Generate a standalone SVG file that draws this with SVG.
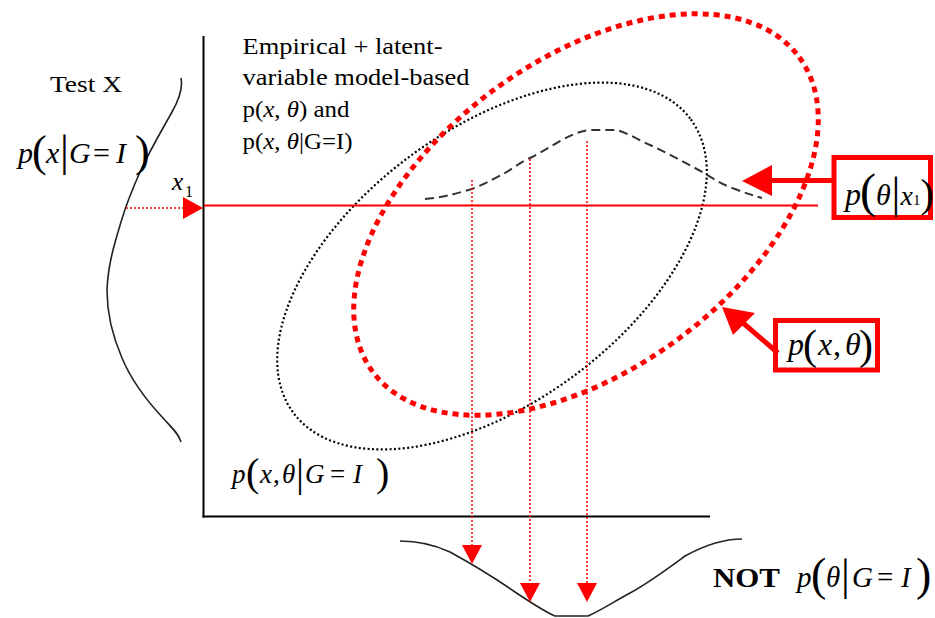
<svg xmlns="http://www.w3.org/2000/svg" width="935" height="618" viewBox="0 0 935 618">
<style>
  text { font-family: "Liberation Serif", "Times New Roman", serif; fill: #000; }
  .t { font-size: 24px; }
  .i { font-style: italic; }
  .n { font-style: normal; }
  .b { font-weight: bold; }
  .axis { stroke: #000; stroke-width: 2; fill: none; }
  .curve { stroke: #222; stroke-width: 1.6; fill: none; }
  .dash { stroke: #333; stroke-width: 2; fill: none; stroke-dasharray: 9 5; }
  .rdot { stroke: #f00; stroke-width: 1.5; fill: none; stroke-dasharray: 2 2; }
  .rthick { stroke: #f00; stroke-width: 5; fill: none; }
  .rhead { fill: #f00; stroke: none; }
  .box { fill: #fff; stroke: #f00; stroke-width: 5; }
</style>

<g id="axes">
  <line class="axis" x1="203.5" y1="36" x2="203.5" y2="517.5"/>
  <line class="axis" x1="202.5" y1="516.5" x2="710" y2="516.5"/>
</g>

<g id="test-x-density">
  <path class="curve" d="M181,78 C183,88 180,98 172,112 C162,130 150,150 140,172 C132,190 126,205 121,222 C114,245 108,265 107,290 C107,312 112,335 122,358 C132,382 148,402 163,418 C172,428 179,434 181,442"/>
  <text class="t" x="50" y="92" textLength="72" lengthAdjust="spacingAndGlyphs">Test X</text>
  <text class="i" font-size="30"><tspan x="18" y="163">p</tspan><tspan class="n" font-size="44" x="32" y="166">(</tspan><tspan x="46" y="163">x</tspan><tspan class="n" font-size="44" x="60" y="166">|</tspan><tspan x="69" y="163">G</tspan><tspan class="n" x="93" y="163">=</tspan><tspan x="116" y="163">I</tspan><tspan class="n" font-size="44" x="135" y="166">)</tspan></text>
  <text class="i" font-size="25"><tspan x="172" y="190">x</tspan><tspan class="n" font-size="16" x="185" y="197">1</tspan></text>
</g>

<g id="model-label">
  <text class="t" x="242.5" y="53.5" textLength="200" lengthAdjust="spacingAndGlyphs">Empirical + latent-</text>
  <text class="t" x="242.5" y="85" textLength="227" lengthAdjust="spacingAndGlyphs">variable model-based</text>
  <text class="t" x="242.5" y="117" textLength="107" lengthAdjust="spacingAndGlyphs">p(<tspan class="i">x</tspan>, <tspan class="i">θ</tspan>) and</text>
  <text class="t" x="242.5" y="148.5" textLength="110" lengthAdjust="spacingAndGlyphs">p(<tspan class="i">x</tspan>, <tspan class="i">θ</tspan>|G=I)</text>
</g>

<g id="ellipse-group-I">
  <ellipse cx="492" cy="266" rx="247" ry="137" transform="rotate(-36.4 492 266)" fill="none" stroke="#000" stroke-width="2.2" stroke-dasharray="2 2.4"/>
  <text class="i" font-size="27"><tspan x="232" y="483">p</tspan><tspan class="n" font-size="40" x="246" y="486">(</tspan><tspan x="260" y="483">x</tspan><tspan class="n" x="273" y="483">,</tspan><tspan x="282" y="483">θ</tspan><tspan class="n" font-size="40" x="296" y="486">|</tspan><tspan x="305" y="483">G</tspan><tspan class="n" x="330" y="483">=</tspan><tspan x="353" y="483">I</tspan><tspan class="n" font-size="40" x="376" y="486">)</tspan></text>
</g>

<g id="ellipse-joint">
  <ellipse cx="586" cy="214.5" rx="265" ry="155" transform="rotate(-36.4 586 214.5)" fill="none" stroke="#f00" stroke-width="5" stroke-dasharray="6 5"/>
</g>

<g id="conditional-curve">
  <path class="dash" d="M425,199 C440,198 455,194 472,189 C485,184 495,178 505,173 C515,167 522,161 530,158 C540,153 550,147 560,141 C570,136 578,131 590,130 L617,130 C630,134 640,141 650,145 C665,152 680,160 695,168 C710,176 720,184 735,189 C745,193 752,195 762,198"/>
</g>

<g id="theta-density">
  <path class="curve" d="M400,541 C420,541 435,545 450,552 C470,563 495,578 515,592 C530,602 545,612 555,616 L588,616 C600,611 615,601 630,593 C650,582 670,567 685,556 C705,545 725,539 742,539"/>
  <text class="b" font-size="27" x="713" y="587" textLength="67" lengthAdjust="spacingAndGlyphs">NOT</text>
  <text class="i" font-size="29"><tspan x="797" y="587">p</tspan><tspan class="n" font-size="46" x="811" y="590">(</tspan><tspan x="826" y="587">θ</tspan><tspan class="n" font-size="44" x="841" y="590">|</tspan><tspan x="852" y="587">G</tspan><tspan class="n" x="877" y="587">=</tspan><tspan x="901" y="587">I</tspan><tspan class="n" font-size="46" x="916" y="590">)</tspan></text>
</g>

<g id="box-theta-given-x1">
  <rect class="box" x="834" y="157.5" width="96.5" height="60"/>
  <text class="i" font-size="32"><tspan x="845" y="205">p</tspan><tspan class="n" font-size="48" x="860" y="207">(</tspan><tspan font-size="30" x="876" y="205">θ</tspan><tspan class="n" font-size="44" x="891.5" y="208">|</tspan><tspan font-size="28" x="900.5" y="205">x</tspan><tspan class="n" font-size="15" x="913" y="205">1</tspan><tspan class="n" font-size="40" x="920.5" y="207">)</tspan></text>
</g>

<g id="box-joint">
  <rect class="box" x="775.5" y="320.5" width="102" height="49.5"/>
  <text class="i" font-size="32"><tspan x="788" y="355">p</tspan><tspan class="n" font-size="42" x="803" y="359">(</tspan><tspan x="818" y="355">x</tspan><tspan class="n" x="833" y="355">,</tspan><tspan x="845" y="355">θ</tspan><tspan class="n" font-size="42" x="859" y="359">)</tspan></text>
</g>

<g id="connectors">
  <line x1="204" y1="205.5" x2="818" y2="205.5" stroke="#f00" stroke-width="2"/>
  <line class="rdot" x1="126" y1="208" x2="184" y2="208"/>
  <polygon class="rhead" points="183,197 203,208 183,219"/>
  <line class="rdot" x1="472" y1="180" x2="472" y2="546"/>
  <polygon class="rhead" points="462,545 482,545 472,564"/>
  <line class="rdot" x1="530" y1="159" x2="530" y2="584"/>
  <polygon class="rhead" points="520,583 540,583 530,602"/>
  <line class="rdot" x1="587" y1="141" x2="587" y2="584"/>
  <polygon class="rhead" points="577,583 597,583 587,602"/>
  <line class="rthick" x1="768" y1="180.5" x2="834" y2="180.5"/>
  <polygon class="rhead" points="742,181 772,165 772,196"/>
  <line class="rthick" x1="742" y1="322" x2="778" y2="353"/>
  <polygon class="rhead" points="722,307 733,335 755,313"/>
</g>
</svg>
